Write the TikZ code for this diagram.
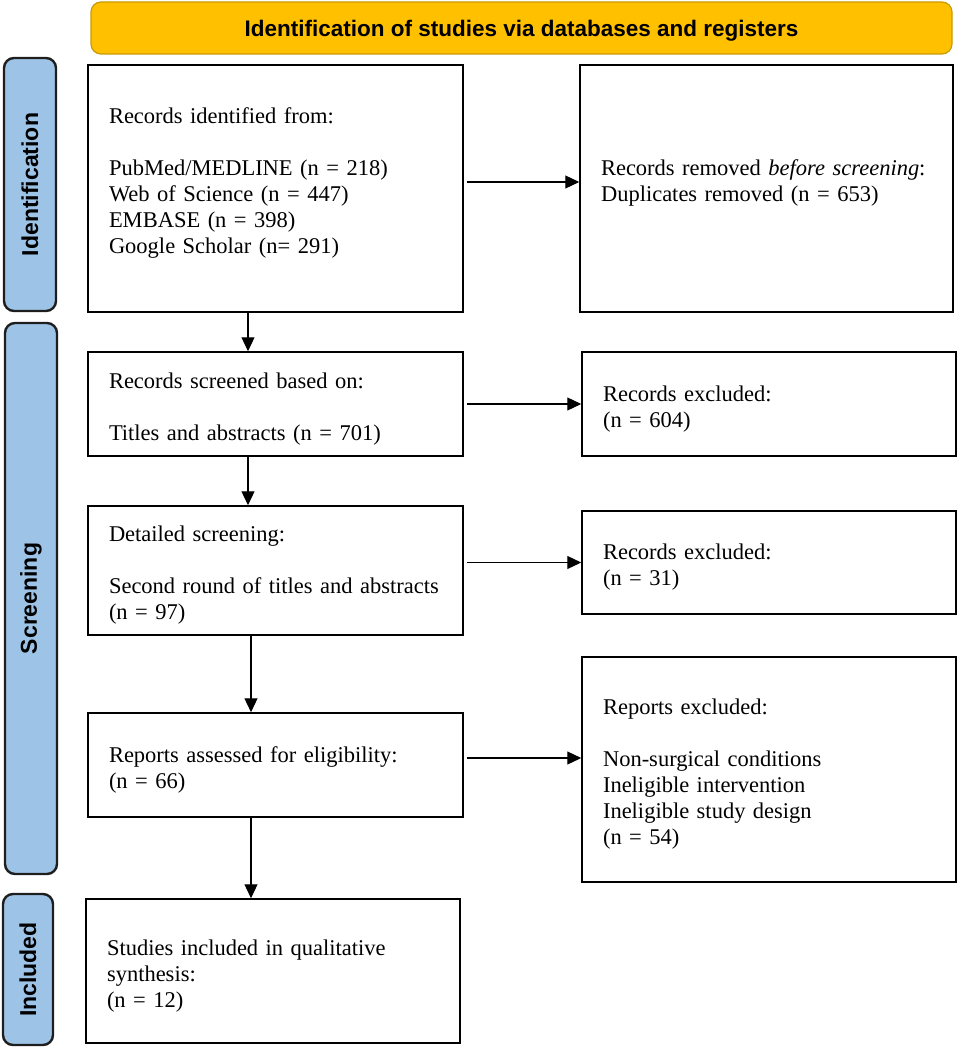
\documentclass[tikz,border=0pt]{standalone}
\usepackage{fontspec}
\setmainfont{Liberation Serif}
\newfontfamily\lsans{Liberation Sans}
\usetikzlibrary{arrows.meta}
\definecolor{gold}{HTML}{FFC000}
\definecolor{goldedge}{HTML}{C89B00}
\definecolor{sideblue}{HTML}{9DC3E6}
\definecolor{sideedge}{HTML}{1E1E1E}
\newcommand{\dn}{\rule{0pt}{25pt}}
\newcommand{\upp}{\rule[-15pt]{0pt}{15pt}}
\tikzset{
  bx/.style={draw, line width=1.5pt, inner xsep=21pt, inner ysep=0pt, align=left,
    font=\fontsize{22.5}{26}\selectfont},
  sidelab/.style={draw=sideedge, fill=sideblue, line width=2.4pt, rounded corners=10pt,
    rotate=90, inner sep=0pt, font=\lsans\bfseries\fontsize{23}{26}\selectfont},
  banner/.style={draw=goldedge, fill=gold, line width=1.2pt, rounded corners=10pt,
    inner sep=0pt, text depth=0pt, font=\lsans\bfseries\fontsize{22.5}{26}\selectfont},
  arr/.style={line width=1.2pt, -{Triangle[length=14pt,width=13pt]}}
}
\begin{document}
\begin{tikzpicture}[x=1pt,y=-1pt]
\useasboundingbox (0,0) rectangle (959,1048);

\node[banner, minimum width=861pt, minimum height=52pt] (ban) at (521.5,28)
  {Identification of studies via databases and registers};

\node[sidelab, minimum width=253pt, minimum height=52pt] (sid) at (30,184.5) {Identification};
\node[sidelab, minimum width=551pt, minimum height=52pt] (sscr) at (31,598.5) {Screening};
\node[sidelab, minimum width=151pt, minimum height=50pt] (sinc) at (28,969.5) {Included};

\node[bx, text width=333pt, minimum height=247pt] (b1) at (275.5,188.5)
  {Records identified from:\\[26pt]
   PubMed/MEDLINE (n = 218)\\
   Web of Science (n = 447)\\
   EMBASE (n = 398)\\
   Google Scholar (n= 291)\upp};
\node[bx, text width=331pt, minimum height=247pt] (r1) at (766.5,188.5)
  {Records removed \textit{before screening}:\\
   Duplicates removed (n = 653)\upp};

\node[bx, text width=333pt, minimum height=104pt] (b2) at (275.5,404)
  {\dn Records screened based on:\\[26pt]
   Titles and abstracts (n = 701)};
\node[bx, text width=332pt, minimum height=104pt] (r2) at (769,404)
  {\dn Records excluded:\\
   (n = 604)};

\node[bx, text width=333pt, minimum height=129pt] (b3) at (275.5,570.5)
  {\dn Detailed screening:\\[26pt]
   Second round of titles and abstracts\\
   (n = 97)};
\node[bx, text width=332pt, minimum height=103pt] (r3) at (769,562.5)
  {\dn Records excluded:\\
   (n = 31)};

\node[bx, text width=333pt, minimum height=104pt] (b4) at (275.5,765)
  {\dn Reports assessed for eligibility:\\
   (n = 66)};
\node[bx, text width=332pt, minimum height=225pt] (r4) at (769,769.5)
  {\dn Reports excluded:\\[26pt]
   Non-surgical conditions\\
   Ineligible intervention\\
   Ineligible study design\\
   (n = 54)};

\node[bx, text width=332pt, minimum height=144pt] (b5) at (273,971)
  {\dn Studies included in qualitative\\
   synthesis:\\
   (n = 12)};

\coordinate (xa) at (248,0);
\coordinate (xb) at (251,0);
\coordinate (a1) at ([yshift=6.5pt]b1.east);
\coordinate (a4) at ([yshift=7pt]b4.east);

\draw[arr] (b1.south -| xa) -- (b2.north -| xa);
\draw[arr] (b2.south -| xa) -- (b3.north -| xa);
\draw[arr] (b3.south -| xb) -- (b4.north -| xb);
\draw[arr] (b4.south -| xb) -- (b5.north -| xb);

\draw[arr, shorten <=3pt] (a1) -- (r1.west |- a1);
\draw[arr, shorten <=3pt] (b2.east) -- (r2.west);
\draw[arr, shorten <=3pt] (r3.west -| b3.east) -- (r3.west);
\draw[arr, shorten <=3pt] (a4) -- (r4.west |- a4);
\end{tikzpicture}
\end{document}
